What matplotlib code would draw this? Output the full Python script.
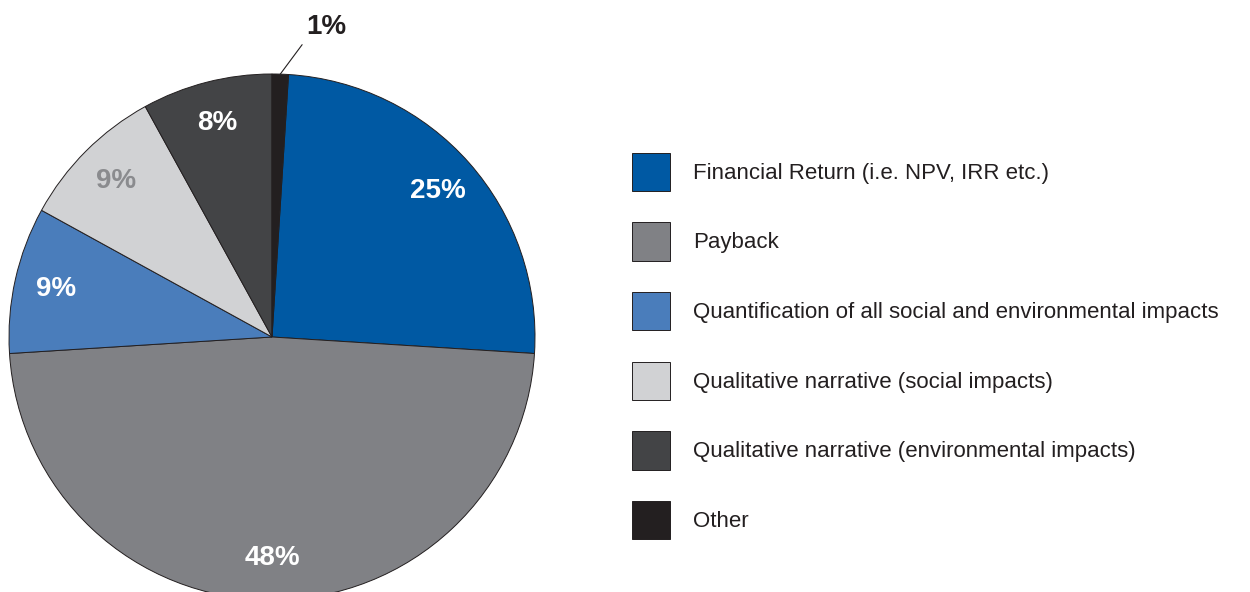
import numpy as np
import matplotlib.pyplot as plt

plt.rcParams['font.family'] = ['Liberation Sans', 'DejaVu Sans']

labels = ['Financial Return (i.e. NPV, IRR etc.)', 'Payback',
          'Quantification of all social and environmental impacts',
          'Qualitative narrative (social impacts)',
          'Qualitative narrative (environmental impacts)', 'Other']
shares = [25, 48, 9, 9, 8, 1]
colors = ['#0059a3', '#808185', '#4a7dbb', '#d1d2d4', '#434446', '#231f20']
pct_colors = ['white', 'white', 'white', '#8a8b8e', 'white', '#231f20']

fig = plt.figure(figsize=(12.5, 5.92), dpi=100)
# pie centred at (272, 337) px with radius 263 px
ax = fig.add_axes([9 / 1250, -8 / 592, 526 / 1250, 526 / 592])

start = 90 - 360 * shares[-1] / sum(shares)
wedges, texts, autotexts = ax.pie(
    shares, colors=colors, startangle=start, counterclock=False,
    autopct=lambda p: f'{p:.0f}%', pctdistance=0.84,
    wedgeprops=dict(edgecolor='#231f20', linewidth=0.7),
    textprops=dict(fontsize=20, fontweight='bold'))
ax.set_xlim(-1, 1)
ax.set_ylim(-1, 1)
ax.set_aspect('equal')

for t, c in zip(autotexts, pct_colors):
    t.set_color(c)

# small "Other" slice gets a leader line outside the pie
w = wedges[-1]
mid = np.deg2rad((w.theta1 + w.theta2) / 2)
autotexts[-1].set_visible(False)
ax.annotate(autotexts[-1].get_text(), xy=(np.cos(mid), np.sin(mid)),
            xytext=(0.205, 1.18), ha='center', va='center',
            fontsize=20, fontweight='bold', color='#231f20',
            arrowprops=dict(arrowstyle='-', color='#231f20', lw=0.8,
                            shrinkA=2, shrinkB=0, relpos=(0, 0)),
            annotation_clip=False)

fig.legend(wedges, labels, loc='center left',
           bbox_to_anchor=(632 / 1250, (592 - 346) / 592),
           frameon=False, fontsize=16, handlelength=1.71, handleheight=2.26,
           handletextpad=1.04, labelspacing=1.42, borderpad=0,
           borderaxespad=0, labelcolor='#231f20')

fig.savefig('out.png', dpi=100)
